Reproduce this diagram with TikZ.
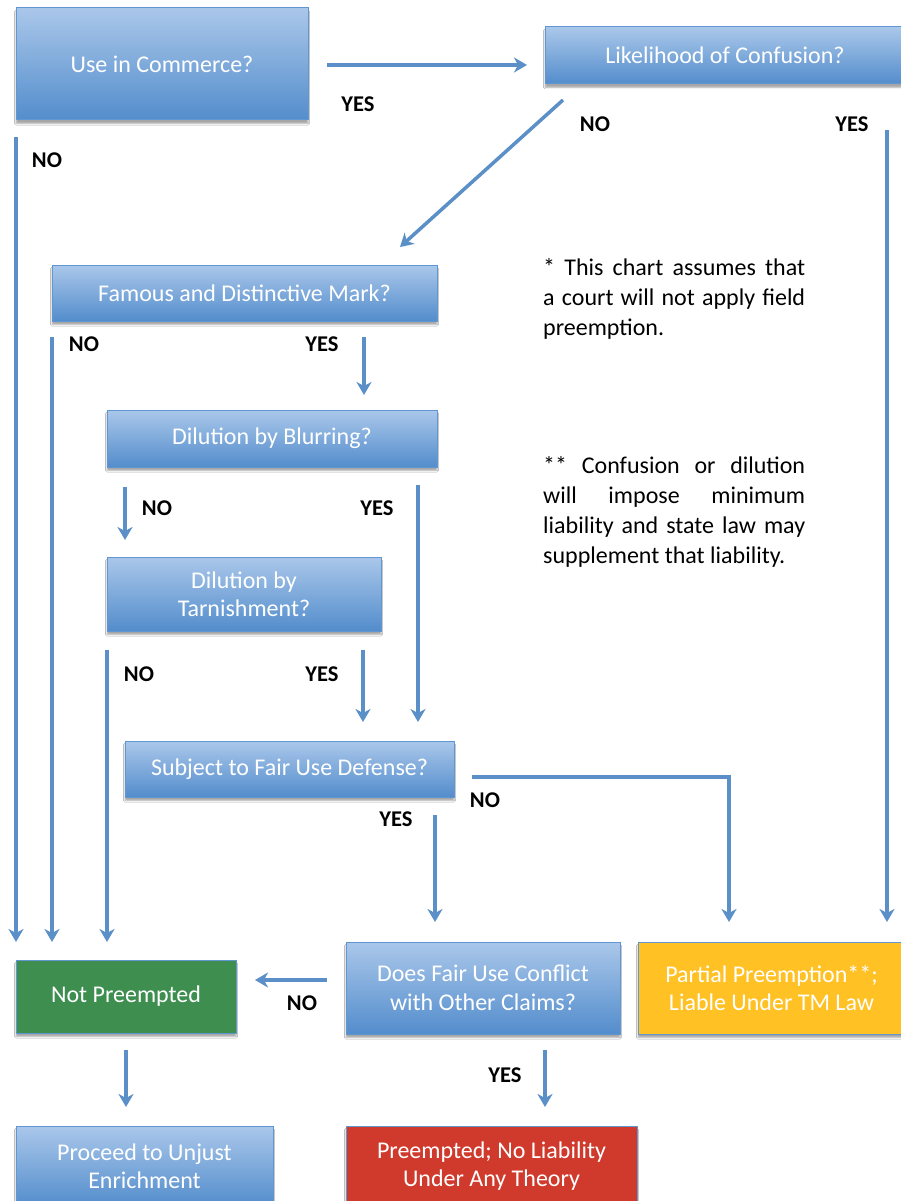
\documentclass[tikz,border=0pt]{standalone}
\usepackage{fontspec}
\setmainfont{Carlito}
\usetikzlibrary{arrows.meta,calc,shadows.blur}
\definecolor{bTop}{RGB}{170,199,234}
\definecolor{bBot}{RGB}{83,141,204}
\definecolor{bBorder}{RGB}{96,150,210}
\definecolor{arr}{RGB}{91,143,200}
\definecolor{gFill}{RGB}{61,142,79}
\definecolor{yFill}{RGB}{255,193,36}
\definecolor{rFill}{RGB}{208,58,44}
\tikzset{
  box/.style={rectangle, inner sep=0pt, outer sep=0pt, draw=bBorder, line width=1pt, text=white,
    font=\fontsize{24}{28.5}\selectfont, align=center,
    blur shadow={shadow xshift=0pt, shadow yshift=-3.5pt, shadow blur steps=5, shadow blur radius=1.5pt, shadow opacity=35}},
  bluebox/.style={box, top color=bTop, bottom color=bBot},
  conn/.style={draw=arr, line width=3.5pt, -{Stealth[length=13pt,width=15pt,inset=4pt]}},
  lab/.style={font=\fontsize{22.5}{26}\selectfont\bfseries, text=black, inner sep=0pt},
  note/.style={font=\fontsize{24}{30}\selectfont, text=black, align=left, anchor=north west, inner sep=0pt}
}
\newcommand{\jl}[1]{\makebox[262pt][s]{#1}}
\begin{document}
\begin{tikzpicture}[x=1pt,y=-1pt]
\useasboundingbox[fill=white] (0,0) rectangle (901,1201);
% boxes
\node[bluebox, minimum width=292pt, minimum height=112pt] (uic) at (162,64) {Use in Commerce?};
\node[bluebox, minimum width=360pt, minimum height=57pt] (lik) at (725,55.5) {Likelihood of Confusion?};
\node[bluebox, minimum width=385pt, minimum height=56pt] (fam) at (244.5,293) {Famous and Distinctive Mark?};
\node[bluebox, minimum width=330pt, minimum height=57pt] (blur) at (272,438.5) {Dilution by Blurring?};
\node[bluebox, minimum width=274pt, minimum height=74pt] (tarn) at (244,594) {Dilution by\\Tarnishment?};
\node[bluebox, minimum width=329pt, minimum height=56pt] (fair) at (289.5,769) {Subject to Fair Use Defense?};
\node[box, fill=gFill, minimum width=220pt, minimum height=73pt] (notp) at (126,996.5) {Not Preempted};
\node[bluebox, minimum width=274pt, minimum height=92pt] (conf) at (483,988) {Does Fair Use Conflict\\with Other Claims?};
\node[box, fill=yFill, minimum width=267pt, minimum height=92pt] (part) at (771.5,988) {Partial Preemption**;\\Liable Under TM Law};
\node[bluebox, minimum width=257pt, minimum height=80pt] (proc) at (144.5,1166) {Proceed to Unjust\\Enrichment};
\node[box, fill=rFill, minimum width=291pt, minimum height=80pt] (pre) at (491.5,1166) {Preempted; No Liability\\Under Any Theory};
% connectors
\draw[conn] ($(uic.east)+(19,1)$) -- ($(lik.west)+(-18,9.5)$);
\draw[conn] ($(uic.south west)+(0,17)$) -- ($(notp.north west)+(0,-18)$);
\draw[conn] ($(lik.south west)+(18,16)$) -- ($(fam.north east)+(-37,-18)$);
\draw[conn] ($(lik.south east)+(-18,46)$) -- ($(part.north east)+(-18,-20)$);
\draw[conn] ($(fam.south west)+(0,16)$) -- ($(notp.north west)+(36,-18)$);
\draw[conn] ($(fam.south west)+(312,16)$) -- ($(blur.north west)+(257,-15)$);
\draw[conn] ($(blur.south west)+(18,20)$) -- ($(tarn.north west)+(18,-17)$);
\draw[conn] ($(blur.south east)+(-19,18)$) -- ($(fair.north east)+(-36,-19)$);
\draw[conn] ($(tarn.south west)+(0,19)$) -- ($(notp.north west)+(91,-18)$);
\draw[conn] ($(tarn.south east)+(-18,19)$) -- ($(fair.north west)+(238,-19)$);
\draw[conn] ($(fair.east)+(18,8)$) -| ($(part.north west)+(91,-20)$);
\draw[conn] ($(fair.south east)+(-19,18)$) -- ($(conf.north west)+(89,-20)$);
\draw[conn] ($(conf.west)+(-19,-8)$) -- ($(notp.east)+(19,-16.5)$);
\draw[conn] ($(notp.south)+(0,17)$) -- ($(proc.north west)+(110,-19)$);
\draw[conn] ($(conf.south west)+(199,16)$) -- ($(pre.north west)+(199,-19)$);
% labels
\node[lab] (l1) at (358,104) {YES};
\node[lab] (l2) at (47,160) {NO};
\node[lab] (l3) at (595,124) {NO};
\node[lab] (l4) at (852,124) {YES};
\node[lab] (l5) at (84,344) {NO};
\node[lab] (l6) at (322,344) {YES};
\node[lab] (l7) at (157,508) {NO};
\node[lab] (l8) at (377,508) {YES};
\node[lab] (l9) at (139,674) {NO};
\node[lab] (l10) at (322,674) {YES};
\node[lab] (l11) at (485,800) {NO};
\node[lab] (l12) at (396,819) {YES};
\node[lab] (l13) at (302,1003) {NO};
\node[lab] (l14) at (505,1075) {YES};
% notes
\node[note] (n1) at (543,258) {\jl{* This chart assumes that}\\\jl{a court will not apply field}\\preemption.};
\node[note] (n2) at (543,456) {\jl{** Confusion or dilution}\\\jl{will impose minimum}\\\jl{liability and state law may}\\supplement that liability.};
\end{tikzpicture}
\end{document}
